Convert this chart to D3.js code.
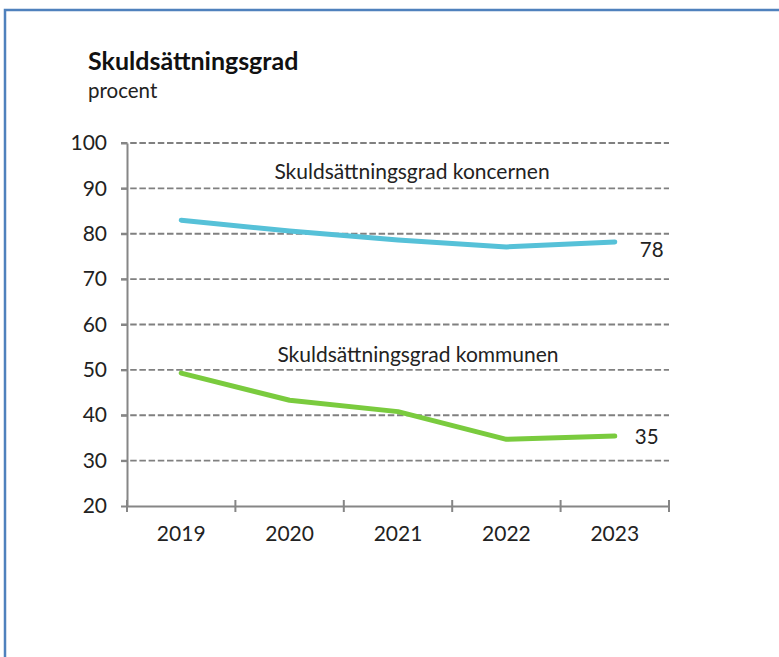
<!DOCTYPE html>
<html>
<head>
<meta charset="utf-8">
<script src="https://cdn.jsdelivr.net/npm/d3@7"></script>
<style>
  body { margin: 0; background: #fff; }
  svg { display: block; font-family: Lato, "Open Sans", sans-serif; }
  .grid line { stroke: #808080; stroke-width: 1.8; stroke-dasharray: 6.5 2.7; }
  .axis path, .axis line { stroke: #868686; stroke-width: 2; }
  .axis text { font-family: Lato, "Open Sans", sans-serif; font-size: 21px; fill: #222; }
</style>
</head>
<body>
<svg id="chart" width="779" height="657"></svg>
<script>
const years = ["2019", "2020", "2021", "2022", "2023"];
const koncernen = [83.0, 80.6, 78.6, 77.1, 78.2];
const kommunen = [49.3, 43.3, 40.8, 34.7, 35.4];
const yTicks = [20, 30, 40, 50, 60, 70, 80, 90, 100];

const svg = d3.select('#chart');
const plotLeft = 127, plotRight = 669, plotTop = 143, plotBottom = 506;

// frame
svg.append('rect')
  .attr('x', 5).attr('y', 10)
  .attr('width', 790).attr('height', 700)
  .attr('fill', 'none')
  .attr('stroke', '#4f81bd')
  .attr('stroke-width', 2.5);

svg.append('text')
  .attr('x', 88).attr('y', 70)
  .style('font-size', '25px').style('font-weight', 'bold').attr('fill', '#111')
  .text('Skuldsättningsgrad');

svg.append('text')
  .attr('x', 88).attr('y', 98)
  .style('font-size', '20.5px').attr('fill', '#222')
  .text('procent');

const x = d3.scaleBand().domain(years).range([plotLeft, plotRight]);
const y = d3.scaleLinear().domain([20, 100]).range([plotBottom, plotTop]);

svg.append('g')
  .attr('class', 'grid')
  .selectAll('line')
  .data(yTicks.filter(d => d > 20))
  .join('line')
  .attr('x1', plotLeft - 6).attr('x2', plotRight)
  .attr('y1', d => y(d)).attr('y2', d => y(d));

svg.append('g')
  .attr('class', 'axis')
  .attr('transform', `translate(${plotLeft},0)`)
  .call(d3.axisLeft(y).tickValues(yTicks).tickSize(6).tickSizeOuter(0).tickPadding(14));

const xAxis = svg.append('g')
  .attr('class', 'axis')
  .attr('transform', `translate(0,${plotBottom})`)
  .call(d3.axisBottom(x).tickSize(0).tickPadding(20));

// category boundary ticks
xAxis.selectAll('.bound')
  .data(x.domain().concat(['end']))
  .join('line')
  .attr('class', 'bound')
  .attr('x1', (d, i) => plotLeft + i * x.step())
  .attr('x2', (d, i) => plotLeft + i * x.step())
  .attr('y1', -6).attr('y2', 6);

const line = d3.line()
  .x((d, i) => x(years[i]) + x.bandwidth() / 2)
  .y(d => y(d));

const series = [
  { values: koncernen, color: '#56c1d8', name: 'Skuldsättningsgrad koncernen', labelY: 90, dx: 25, dy: 15 },
  { values: kommunen, color: '#7acb3e', name: 'Skuldsättningsgrad kommunen', labelY: 51.5, dx: 20, dy: 8 }
];

series.forEach(s => {
  svg.append('path')
    .datum(s.values)
    .attr('d', line)
    .attr('fill', 'none')
    .attr('stroke', s.color)
    .attr('stroke-width', 5)
    .attr('stroke-linecap', 'round')
    .attr('stroke-linejoin', 'round');

  const last = s.values[s.values.length - 1];
  svg.append('text')
    .attr('x', x(years[years.length - 1]) + x.bandwidth() / 2 + s.dx)
    .attr('y', y(last) + s.dy)
    .style('font-size', '20.5px').attr('fill', '#222')
    .text(Math.round(last));
});

svg.append('text')
  .attr('x', 412).attr('y', y(series[0].labelY) - 9)
  .attr('text-anchor', 'middle')
  .style('font-size', '21px').attr('fill', '#222')
  .text(series[0].name);

svg.append('text')
  .attr('x', 418).attr('y', y(series[1].labelY) - 1)
  .attr('text-anchor', 'middle')
  .style('font-size', '21px').attr('fill', '#222')
  .text(series[1].name);
</script>
</body>
</html>
